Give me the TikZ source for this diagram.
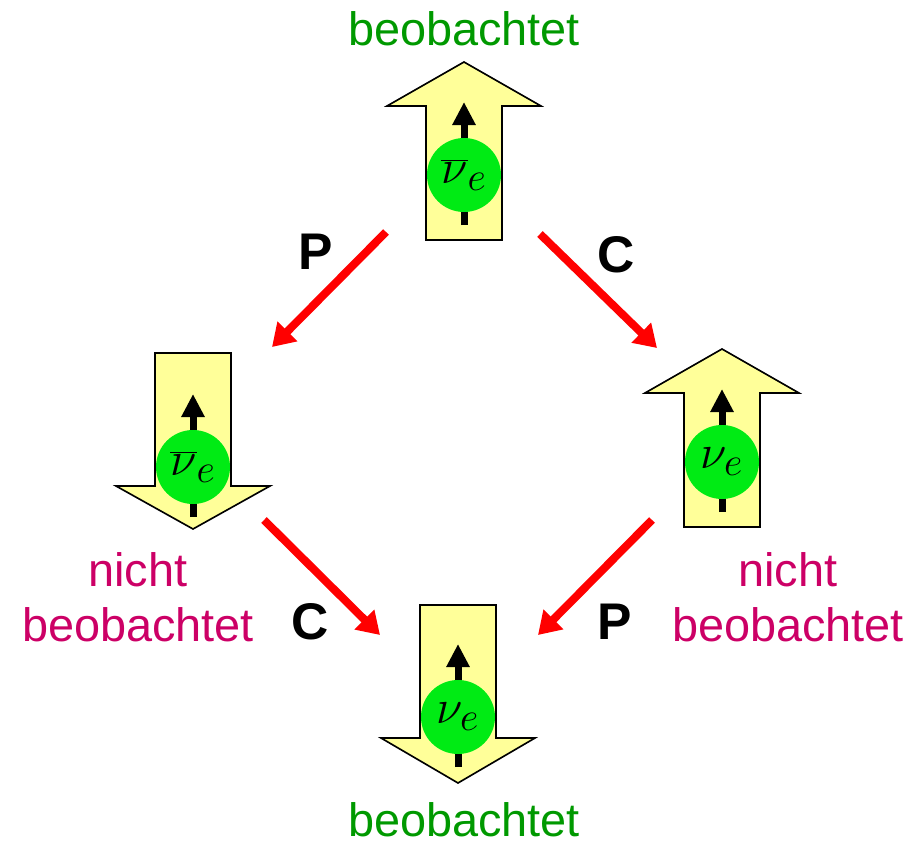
\documentclass[tikz,border=0pt]{standalone}
\usepackage{graphicx}
\usepackage{fontspec}
\setmainfont{Liberation Sans}
\usetikzlibrary{arrows.meta}
\definecolor{seen}{RGB}{0,153,0}
\definecolor{unseen}{RGB}{204,0,102}
\definecolor{ballgreen}{RGB}{0,235,20}
\definecolor{helyellow}{RGB}{255,255,153}
\newcommand{\nue}{\Huge\scalebox{1.65}{$\nu_e$}}
\newcommand{\antinue}{\Huge\scalebox{1.65}{$\overline{\nu}_e$}}

\begin{document}
\begin{tikzpicture}[x=0.03cm, y=-0.03cm,
    helarrow/.style = {draw, fill=helyellow, line width=1.4pt, line join=miter},
    ball/.style = {circle, fill=ballgreen, minimum size=2.22cm, inner sep=0pt},
    spin/.style = {line width=0.21cm, -{Triangle[width=0.66cm, length=0.69cm]}},
    op/.style = {red, line width=0.24cm, -{Triangle[width=0.8cm, length=0.66cm]}},
    oplabel/.style = {inner sep=0pt, font=\fontsize{44}{44}\selectfont\bfseries},
    seenlabel/.style = {seen, inner sep=0pt, anchor=base, font=\fontsize{40}{47}\selectfont},
    unseenlabel/.style = {unseen, inner sep=0pt, align=center, font=\fontsize{40}{47}\selectfont}]
    \useasboundingbox (0,0) rectangle (922,846);

    % antineutrino, helicity up (top)
    \draw[helarrow, shift={(464,175)}] (-38,65) -- (-38,-69) -- (-77,-69) -- (0,-113) -- (77,-69) -- (38,-69) -- (38,65) -- cycle;
    \draw[spin, shift={(464,175)}] (0,50) -- (0,-73);
    \node[ball] (antiup) at (464,175) {\antinue};

    % antineutrino, helicity down (left)
    \draw[helarrow, shift={(193,467)}] (-38,-114) -- (38,-114) -- (38,19) -- (77,19) -- (0,62) -- (-77,19) -- (-38,19) -- cycle;
    \draw[spin, shift={(193,467)}] (0,50) -- (0,-73);
    \node[ball] (antidown) at (193,467) {\antinue};

    % neutrino, helicity up (right)
    \draw[helarrow, shift={(722,462)}] (-38,65) -- (-38,-69) -- (-77,-69) -- (0,-113) -- (77,-69) -- (38,-69) -- (38,65) -- cycle;
    \draw[spin, shift={(722,462)}] (0,50) -- (0,-73);
    \node[ball] (nuup) at (722,462) {\nue};

    % neutrino, helicity down (bottom)
    \draw[helarrow, shift={(458,717)}] (-38,-112) -- (38,-112) -- (38,21) -- (77,21) -- (0,66) -- (-77,21) -- (-38,21) -- cycle;
    \draw[spin, shift={(458,717)}] (0,50) -- (0,-73);
    \node[ball] (nudown) at (458,717) {\nue};

    % transformations
    \coordinate (p1from) at (386,232);
    \coordinate (p1to) at (272,347);
    \coordinate (c1from) at (540,234);
    \coordinate (c1to) at (657,348);
    \coordinate (c2from) at (264,520);
    \coordinate (c2to) at (380,635);
    \coordinate (p2from) at (652,520);
    \coordinate (p2to) at (538,635);
    \draw[op] (p1from) -- (p1to);
    \draw[op] (c1from) -- (c1to);
    \draw[op] (c2from) -- (c2to);
    \draw[op] (p2from) -- (p2to);

    \node[oplabel] (P1) at (316,252) {P};
    \node[oplabel] (C1) at (616,255) {C};
    \node[oplabel] (C2) at (310,622) {C};
    \node[oplabel] (P2) at (615,622) {P};

    \node[seenlabel] (seentop) at (464,46) {beobachtet};
    \node[seenlabel] (seenbottom) at (464,836) {beobachtet};
    \node[unseenlabel] (unseenleft) at (138,597) {nicht\\beobachtet};
    \node[unseenlabel] (unseenright) at (788,597) {nicht\\beobachtet};
\end{tikzpicture}
\end{document}
